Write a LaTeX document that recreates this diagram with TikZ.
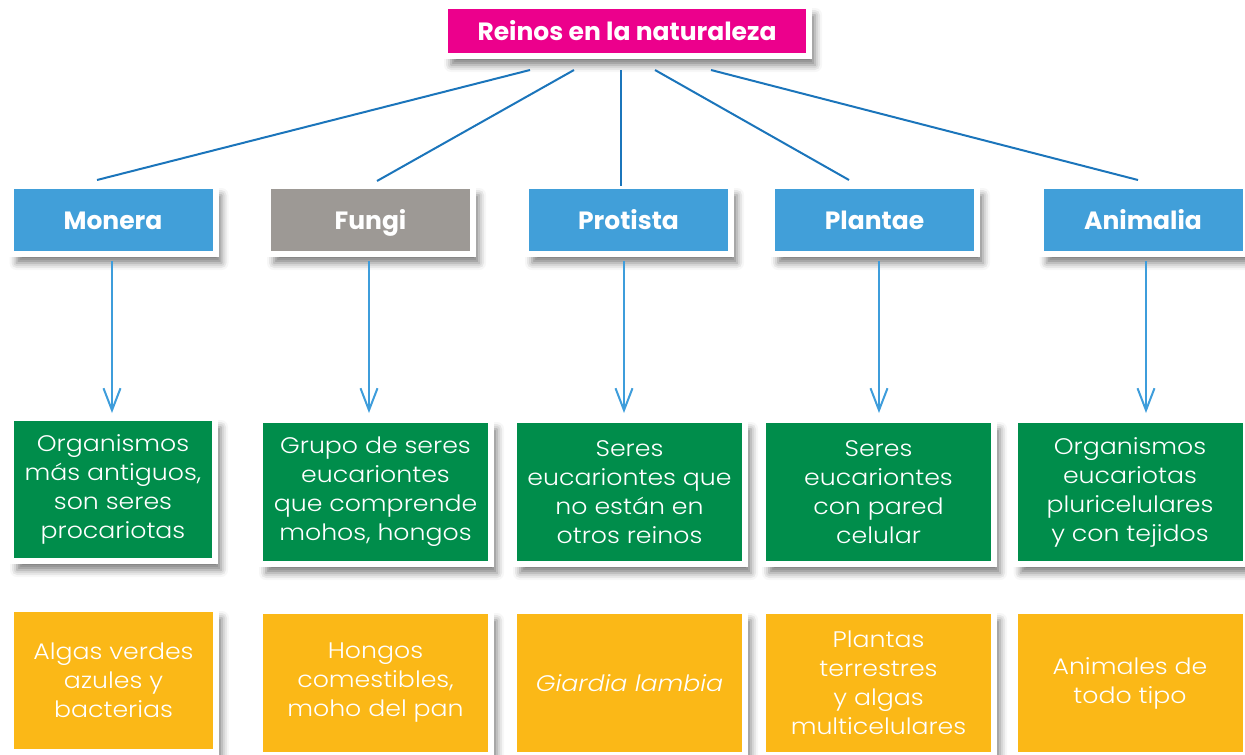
\documentclass[tikz,border=0pt]{standalone}
\usepackage{fontspec}
\setmainfont{Poppins}
\newfontfamily\thinfont{Poppins Light}[FakeStretch=1.12]
\usepackage{tikz}
\usetikzlibrary{arrows.meta,shadows.blur}
\usepackage{xcolor}
\definecolor{reinoPink}{HTML}{EC008C}
\definecolor{reinoBlue}{HTML}{419FD9}
\definecolor{reinoGray}{HTML}{9D9995}
\definecolor{reinoGreen}{HTML}{008D4B}
\definecolor{reinoYellow}{HTML}{FBB817}
\definecolor{linkBlue}{HTML}{1B75BB}
\definecolor{arrowBlue}{HTML}{3E9DDB}
\tikzset{
  box/.style={
    draw=white,
    line width=6pt,
    text=white,
    align=center,
    inner sep=0pt,
    blur shadow={shadow xshift=6pt, shadow yshift=-9pt, shadow blur radius=7pt, shadow opacity=50},
  },
  titlebox/.style={
    box,
    fill=reinoPink,
    minimum width=364pt,
    minimum height=50pt,
    font=\bfseries\fontsize{25}{30}\selectfont,
  },
  kingdom/.style={
    box,
    fill=reinoBlue,
    minimum width=205pt,
    minimum height=68pt,
    text height=20pt,
    text depth=2pt,
    font=\bfseries\fontsize{25}{30}\selectfont,
  },
  descr/.style={
    box,
    fill=reinoGreen,
    minimum width=231pt,
    minimum height=144pt,
    font=\thinfont\fontsize{22.5}{29}\selectfont,
  },
  sample/.style={
    box,
    fill=reinoYellow,
    minimum width=231pt,
    minimum height=144pt,
    font=\thinfont\fontsize{22.5}{29}\selectfont,
  },
  link/.style={line width=2pt, draw=linkBlue},
  arrow/.style={line width=2pt, draw=arrowBlue, -{Straight Barb[length=22pt,width=17pt]}},
}
\begin{document}
\begin{tikzpicture}[x=1pt, y=-1pt]
  \useasboundingbox (0,0) rectangle (1245,755);
  % title
  \node[titlebox] (title) at (627,31) {Reinos en la naturaleza};
  % kingdoms
  \node[kingdom] (monK) at (113,220) {Monera};
  \node[kingdom, fill=reinoGray] (funK) at (370.5,220) {Fungi};
  \node[kingdom] (proK) at (628.5,220) {Protista};
  \node[kingdom] (plaK) at (874.5,220) {Plantae};
  \node[kingdom] (aniK) at (1143,220) {Animalia};
  % descriptions
  \node[descr, minimum width=204pt, minimum height=143pt] (monD) at (113,489.5) {Organismos\\más antiguos,\\son seres\\procariotas};
  \node[descr] (funD) at (375.5,492) {Grupo de seres\\eucariontes\\que comprende\\mohos, hongos};
  \node[descr] (proD) at (629.5,492) {Seres\\eucariontes que\\no están en\\otros reinos};
  \node[descr] (plaD) at (878.5,492) {Seres\\eucariontes\\con pared\\celular};
  \node[descr] (aniD) at (1130,492) {Organismos\\eucariotas\\pluricelulares\\y con tejidos};
  % examples
  \node[sample, minimum width=205pt, minimum height=143pt] (monS) at (113.5,680.5) {Algas verdes\\azules y\\bacterias};
  \node[sample] (funS) at (375.5,683) {Hongos\\comestibles,\\moho del pan};
  \node[sample] (proS) at (629.5,683) {\itshape Giardia lambia};
  \node[sample] (plaS) at (878.5,683) {Plantas\\terrestres\\y algas\\multicelulares};
  \node[sample] (aniS) at (1130,683) {Animales de\\todo tipo};
  % links from title
  \draw[link] ([xshift=-97pt,yshift=-11pt]title.south) -- ([xshift=-16pt,yshift=3pt]monK.north);
  \draw[link] ([xshift=-53pt,yshift=-11pt]title.south) -- ([xshift=6.5pt,yshift=2pt]funK.north);
  \draw[link] ([xshift=-6pt,yshift=-11pt]title.south) -- ([xshift=-7.5pt,yshift=-3pt]proK.north);
  \draw[link] ([xshift=28pt,yshift=-11pt]title.south) -- ([xshift=-25.5pt,yshift=3pt]plaK.north);
  \draw[link] ([xshift=84pt,yshift=-11pt]title.south) -- ([xshift=-5pt,yshift=3pt]aniK.north);
  % arrows to descriptions
  \draw[arrow] ([xshift=-1pt,yshift=-4pt]monK.south) -- ([xshift=-1pt,yshift=2pt]monD.north);
  \draw[arrow] ([xshift=-1.5pt,yshift=-4pt]funK.south) -- ([xshift=-6.5pt,yshift=4pt]funD.north);
  \draw[arrow] ([xshift=-4.5pt,yshift=-4pt]proK.south) -- ([xshift=-5.5pt,yshift=4pt]proD.north);
  \draw[arrow] ([xshift=4.5pt,yshift=-4pt]plaK.south) -- ([xshift=0.5pt,yshift=4pt]plaD.north);
  \draw[arrow] ([xshift=3pt,yshift=-4pt]aniK.south) -- ([xshift=16pt,yshift=4pt]aniD.north);
\end{tikzpicture}
\end{document}
